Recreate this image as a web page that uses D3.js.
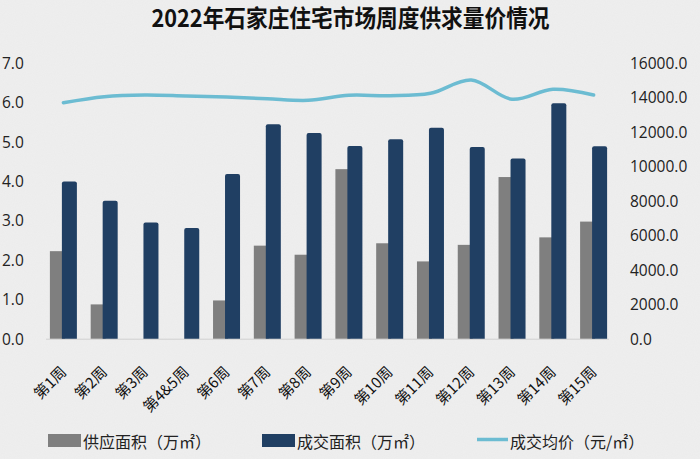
<!DOCTYPE html>
<html>
<head>
<meta charset="utf-8">
<script src="https://cdn.jsdelivr.net/npm/d3@7"></script>
<style>
  html, body { margin: 0; padding: 0; background: #efefef; }
  svg { display: block; }
</style>
</head>
<body>
<svg id="chart" width="700" height="459"></svg>
<script>
const categories = ["第1周","第2周","第3周","第4&5周","第6周","第7周","第8周","第9周","第10周","第11周","第12周","第13周","第14周","第15周"];
const supply = [2.22, 0.87, 0, 0, 0.97, 2.36, 2.13, 4.30, 2.42, 1.96, 2.38, 4.10, 2.57, 2.97];
const deal = [3.99, 3.50, 2.95, 2.81, 4.18, 5.44, 5.22, 4.89, 5.06, 5.35, 4.86, 4.57, 5.97, 4.88];
const price = [13680, 14030, 14125, 14070, 14010, 13910, 13820, 14110, 14085, 14225, 15000, 13880, 14460, 14125];
const leftTicks = [0,1,2,3,4,5,6,7];
const rightTicks = [0,2000,4000,6000,8000,10000,12000,14000,16000];
const seriesNames = ["供应面积（万㎡）", "成交面积（万㎡）", "成交均价（元/㎡）"];
const title = "2022年石家庄住宅市场周度供求量价情况";

const colors = { supply: "#7f7f7f", deal: "#203f63", price: "#6cbcd2" };

const svg = d3.select("#chart");

// textured background
const defs = svg.append("defs");
const f = defs.append("filter").attr("id", "noise").attr("x", 0).attr("y", 0).attr("width", "100%").attr("height", "100%");
f.append("feTurbulence").attr("type", "fractalNoise").attr("baseFrequency", 0.9).attr("numOctaves", 2).attr("seed", 3).attr("result", "t");
f.append("feColorMatrix").attr("in", "t").attr("type", "matrix")
  .attr("values", "0 0 0 0 0.55  0 0 0 0 0.55  0 0 0 0 0.55  0 0 0 0.09 0");
svg.append("rect").attr("width", 700).attr("height", 459).attr("fill", "#efefef");
svg.append("rect").attr("width", 700).attr("height", 459).attr("filter", "url(#noise)");

const x = d3.scaleBand().domain(categories).range([43, 614]).padding(0);
const yL = d3.scaleLinear().domain([0, 7]).range([338.7, 62.7]);
const yR = d3.scaleLinear().domain([0, 16000]).range([338.7, 62.7]);
const bw = x.bandwidth();
const cx = d => x(d) + bw / 2;

// title
svg.append("text")
  .attr("x", 350.5).attr("y", 27)
  .attr("text-anchor", "middle")
  .attr("font-family", "'Noto Sans CJK SC', sans-serif")
  .attr("font-weight", "bold")
  .attr("font-size", 24)
  .attr("textLength", 398)
  .attr("lengthAdjust", "spacingAndGlyphs")
  .attr("fill", "#111")
  .text(title);

// left axis labels
svg.append("g").selectAll("text").data(leftTicks).join("text")
  .attr("x", 2).attr("y", d => yL(d))
  .attr("dominant-baseline", "central")
  .attr("font-family", "'Open Sans', sans-serif")
  .attr("font-size", 15.5)
  .attr("fill", "#222")
  .text(d => d.toFixed(1));

// right axis labels
svg.append("g").selectAll("text").data(rightTicks).join("text")
  .attr("x", 630).attr("y", d => yR(d))
  .attr("dominant-baseline", "central")
  .attr("font-family", "'Open Sans', sans-serif")
  .attr("font-size", 15.5)
  .attr("fill", "#222")
  .text(d => d.toFixed(1));

// baseline
svg.append("line")
  .attr("x1", x.range()[0] + 3).attr("x2", x.range()[1] - 5)
  .attr("y1", yL(0) + 0.5).attr("y2", yL(0) + 0.5)
  .attr("stroke", "#d0d0d0").attr("stroke-width", 1);

// supply bars (gray)
const gw = bw * 0.368;
svg.append("g").selectAll("rect").data(categories).join("rect")
  .attr("x", d => cx(d) - bw * 0.331)
  .attr("width", gw)
  .attr("y", (d, i) => yL(supply[i]))
  .attr("height", (d, i) => yL(0) - yL(supply[i]))
  .attr("fill", colors.supply);

// deal bars (navy) with slightly rounded top
const nw = bw * 0.368;
const r = 2;
svg.append("g").selectAll("path").data(categories).join("path")
  .attr("d", (d, i) => {
    const x0 = cx(d) - bw * 0.037, x1 = x0 + nw;
    const y0 = yL(deal[i]), yb = yL(0);
    return `M${x0},${yb}V${y0 + r}Q${x0},${y0} ${x0 + r},${y0}H${x1 - r}Q${x1},${y0} ${x1},${y0 + r}V${yb}Z`;
  })
  .attr("fill", colors.deal);

// price line
const line = d3.line()
  .x((d, i) => cx(categories[i]))
  .y(d => yR(d))
  .curve(d3.curveCatmullRom.alpha(0.5));
svg.append("path")
  .datum(price)
  .attr("d", line)
  .attr("fill", "none")
  .attr("stroke", colors.price)
  .attr("stroke-width", 3.5)
  .attr("stroke-linecap", "round");

// x labels
svg.append("g").selectAll("text").data(categories).join("text")
  .attr("transform", d => `translate(${cx(d) + 4},${373}) rotate(-45)`)
  .attr("text-anchor", "end")
  .attr("font-family", "'Noto Sans CJK SC', sans-serif")
  .attr("font-size", 15)
  .attr("fill", "#111")
  .text(d => d);

// legend
const lg = svg.append("g").attr("font-family", "'Noto Sans CJK SC', sans-serif").attr("font-size", 16).attr("fill", "#222");
lg.append("rect").attr("x", 48).attr("y", 434).attr("width", 33).attr("height", 13).attr("fill", colors.supply);
lg.append("text").attr("x", 83).attr("y", 440.5).attr("dominant-baseline", "central").text(seriesNames[0]);
lg.append("rect").attr("x", 262).attr("y", 434).attr("width", 33).attr("height", 13).attr("fill", colors.deal);
lg.append("text").attr("x", 297).attr("y", 440.5).attr("dominant-baseline", "central").text(seriesNames[1]);
lg.append("line").attr("x1", 477).attr("x2", 508).attr("y1", 439.5).attr("y2", 439.5).attr("stroke", colors.price).attr("stroke-width", 3.5);
lg.append("text").attr("x", 510).attr("y", 440.5).attr("dominant-baseline", "central").text(seriesNames[2]);
</script>
</body>
</html>
